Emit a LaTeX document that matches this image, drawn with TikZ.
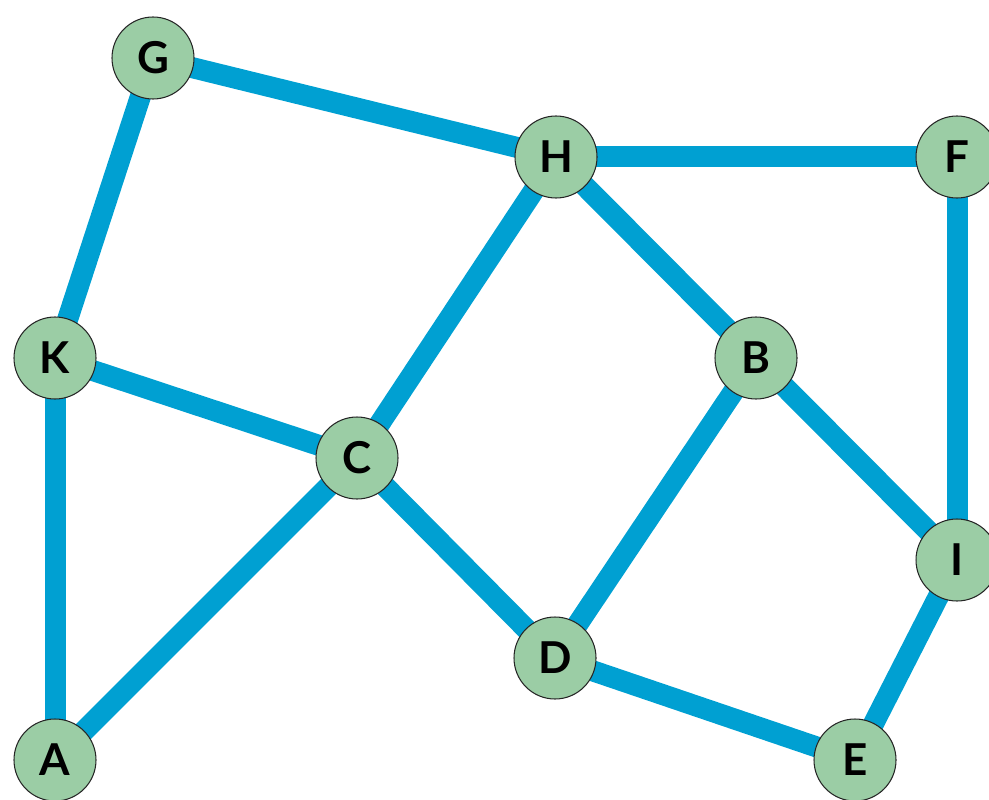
\documentclass[tikz,border=0pt]{standalone}
\usepackage{fontspec}
\setmainfont{Lato}
\usetikzlibrary{backgrounds}
\definecolor{edgeblue}{RGB}{0,160,210}
\definecolor{nodegreen}{RGB}{155,205,165}

\begin{document}
\begin{tikzpicture}
[town/.style={circle,minimum size=16.4mm,inner sep=0pt,fill=nodegreen,draw=black!85,semithick,font=\fontsize{25}{25}\selectfont\bfseries},
road/.style={edgeblue,line width=4.2mm},
]
\useasboundingbox (0,0) rectangle (19.78,15.98);

\node [town] (G) at (3.06,14.82){G};
\node [town] (H) at (11.12,12.84){H};
\node [town] (F) at (19.14,12.84){F};
\node [town] (K) at (1.10,8.82){K};
\node [town] (B) at (15.12,8.82){B};
\node [town] (C) at (7.14,6.82){C};
\node [town] (I) at (19.14,4.78){I};
\node [town] (D) at (11.10,2.82){D};
\node [town] (A) at (1.10,0.78){A};
\node [town] (E) at (17.10,0.78){E};

\begin{scope}[on background layer]
\draw[road] (G.center) -- (H.center);
\draw[road] (H.center) -- (F.center);
\draw[road] (G.center) -- (K.center);
\draw[road] (K.center) -- (C.center);
\draw[road] (K.center) -- (A.center);
\draw[road] (A.center) -- (C.center);
\draw[road] (C.center) -- (H.center);
\draw[road] (H.center) -- (B.center);
\draw[road] (C.center) -- (D.center);
\draw[road] (D.center) -- (B.center);
\draw[road] (B.center) -- (I.center);
\draw[road] (F.center) -- (I.center);
\draw[road] (I.center) -- (E.center);
\draw[road] (D.center) -- (E.center);
\end{scope}
\end{tikzpicture}
\end{document}
